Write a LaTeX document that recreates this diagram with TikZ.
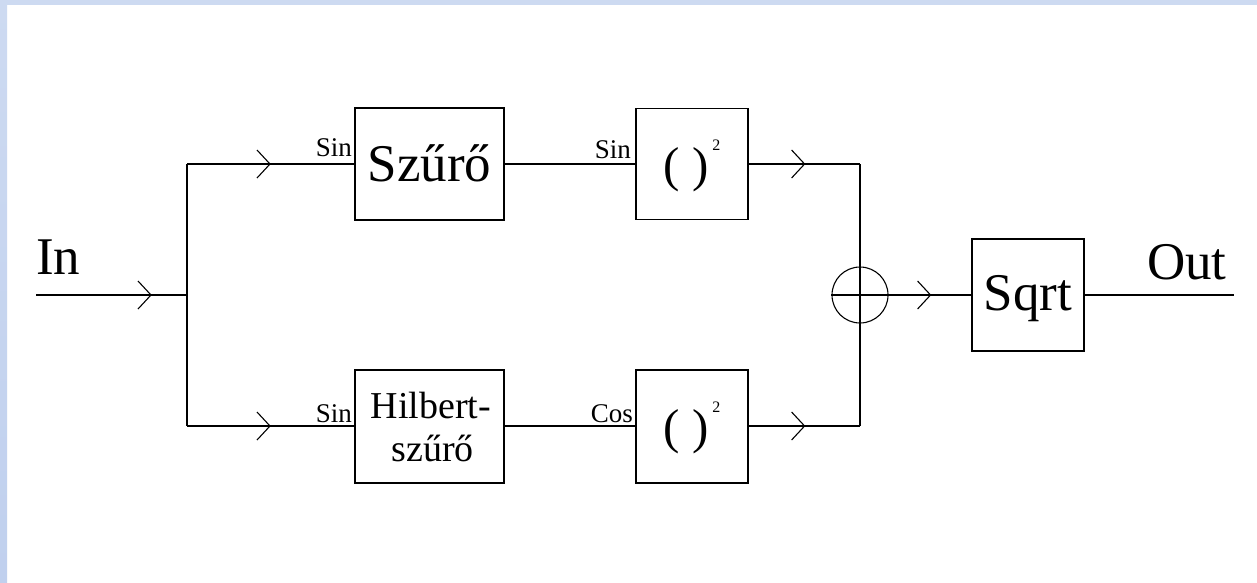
\documentclass[tikz,border=0pt]{standalone}
\usepackage{fontspec}
\setmainfont{Liberation Serif}
\usetikzlibrary{decorations.markings}
\definecolor{frame}{RGB}{205,218,241}
\definecolor{frameb}{RGB}{192,208,238}

\begin{document}
\begin{tikzpicture}[x=1pt,y=-1pt,
  wire/.style={line width=1.2pt},
  block/.style={draw, line width=1.2pt, inner sep=0pt, text depth=0pt},
  big/.style={font=\fontsize{53}{53}\selectfont, inner sep=0pt},
  lbl/.style={font=\fontsize{27}{27}\selectfont, inner sep=0pt},
  chev/.style={postaction={decorate}, decoration={markings,
    mark=at position #1 with {\draw[line width=1.1pt] (-13pt,14pt) -- (0pt,0pt) -- (-13pt,-14pt);}}},
]
% page and frame strips
\fill[white] (0,0) rectangle (1257,582);
\fill[frame] (0,0) rectangle (1257,5);
\shade[top color=frame, bottom color=frameb] (0,0) rectangle (7,582);
\useasboundingbox (0,0) rectangle (1257,582);

% junction points
\coordinate (in) at (36,295);
\coordinate (split) at (187,295);
\coordinate (tl) at (187,164);
\coordinate (bl) at (187,426);
\coordinate (tr) at (860,164);
\coordinate (br) at (860,426);
\coordinate (out) at (1234,295);

% blocks
\node[block, minimum width=149pt, minimum height=112pt, font=\fontsize{53}{53}\selectfont, text height=34pt]
  (szuro) at (429.5,164) {Szűrő};
\node[block, minimum width=149pt, minimum height=113pt] (hilb) at (429.5,426.5) {};
\node[anchor=base, font=\fontsize{38}{43}\selectfont, inner sep=0pt] (hilbA) at (431,418) {Hilbert-};
\node[anchor=base, font=\fontsize{38}{43}\selectfont, inner sep=0pt] (hilbB) at (432.5,461) {szűrő};
\node[block, minimum width=112pt, minimum height=111pt, font=\fontsize{49}{49}\selectfont, text height=34pt]
  (sqa) at (692,164) {( )\hspace{4pt}\raisebox{31pt}{\fontsize{16}{16}\selectfont 2}};
\node[block, minimum width=112pt, minimum height=113pt, font=\fontsize{49}{49}\selectfont, text height=34pt]
  (sqb) at (692,426.5) {( )\hspace{4pt}\raisebox{31pt}{\fontsize{16}{16}\selectfont 2}};
\node[draw, circle, minimum size=56pt, inner sep=0pt, line width=1.1pt] (sum) at (860,295) {};
\node[block, minimum width=112pt, minimum height=112pt, font=\fontsize{53}{53}\selectfont, text height=30pt]
  (sqrt) at (1028,295) {Sqrt};

% wiring
\draw[wire, chev=115pt] (in) -- (split);
\draw[wire] (tl) -- (bl);
\draw[wire, chev=83pt] (tl) -- (szuro.west);
\draw[wire, chev=83pt] (bl) -- (bl -| hilb.west);
\draw[wire] (szuro.east) -- (sqa.west);
\draw[wire] (hilb.east |- bl) -- (bl -| sqb.west);
\draw[wire, chev=56pt] (sqa.east) -- (tr);
\draw[wire, chev=56pt] (br -| sqb.east) -- (br);
\draw[wire] (tr) -- (br);
\draw[wire] (sum.west) -- (sum.east);
\draw[wire, chev=42pt] (sum.east) -- (sqrt.west);
\draw[wire] (sqrt.east) -- (out);

% signal labels
\node[lbl, anchor=base east] (s1) at (352,156) {Sin};
\node[lbl, anchor=base east] (s2) at (631,158) {Sin};
\node[lbl, anchor=base east] (s3) at (352,422) {Sin};
\node[lbl, anchor=base east] (c1) at (633,422) {Cos};
\node[big, anchor=base west] (inlbl) at (36,274) {In};
\node[big, anchor=base west] (outlbl) at (1147,279) {Out};
\end{tikzpicture}
\end{document}
